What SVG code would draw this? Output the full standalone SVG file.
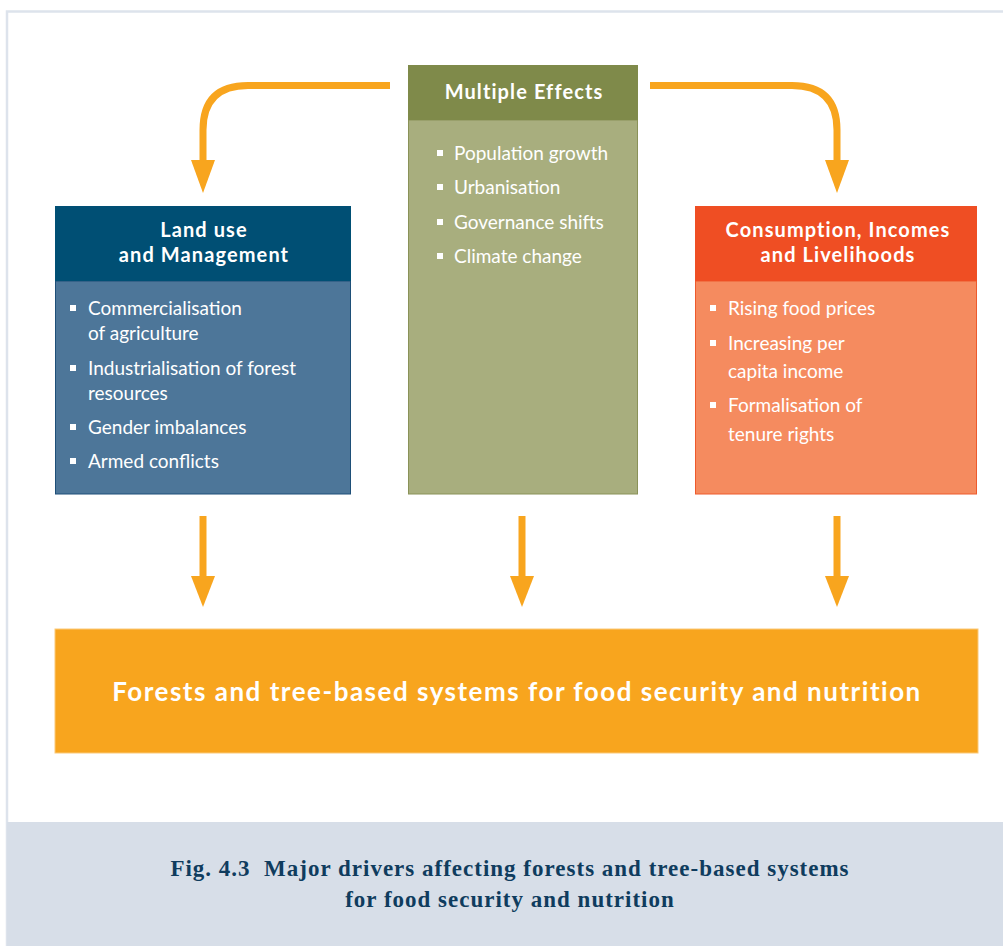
<svg xmlns="http://www.w3.org/2000/svg" width="1003" height="946" viewBox="0 0 1003 946">
<defs>
<style>
.hd{font-family:Lato,"Open Sans",sans-serif;font-weight:bold;font-size:20px;letter-spacing:1.1px;fill:#fff;text-anchor:middle}
.it{font-family:Lato,"Open Sans",sans-serif;font-size:19px;fill:#fff}
.bl{fill:#fff}
.conn{fill:none;stroke:#f8a51e;stroke-width:7}
.head{fill:#f8a51e}
.cap{font-family:"Liberation Serif",serif;font-weight:bold;font-size:23px;letter-spacing:1px;fill:#0f3c5e;text-anchor:middle}
</style>
</defs>
<rect x="0" y="0" width="1003" height="946" fill="#fff"/>
<path d="M7,946 L7,11.5 L1003,11.5" fill="none" stroke="#dde3ec" stroke-width="2.5"/>
<rect x="7" y="822" width="996" height="124" fill="#d7dee8"/>

<g id="connectors">
<path class="conn" d="M390,85.5 L248,85.5 Q203,85.5 203,130 L203,162"/>
<path class="head" d="M191,160 L215,160 L203,193 Z"/>
<path class="conn" d="M650,85.5 L792,85.5 Q837,85.5 837,130 L837,162"/>
<path class="head" d="M825,160 L849,160 L837,193 Z"/>
<path class="conn" d="M203,516 L203,578"/>
<path class="head" d="M191,576 L215,576 L203,607 Z"/>
<path class="conn" d="M522,516 L522,578"/>
<path class="head" d="M510,576 L534,576 L522,607 Z"/>
<path class="conn" d="M837,516 L837,578"/>
<path class="head" d="M825,576 L849,576 L837,607 Z"/>
</g>

<g id="land-use">
<rect x="55.5" y="281" width="295" height="213" fill="#4d7699" stroke="#1e4f78" stroke-width="1"/>
<rect x="55" y="206" width="296" height="75" fill="#004f74"/>
<text class="hd" x="204" y="237">Land use</text>
<text class="hd" x="204" y="262">and Management</text>
<rect class="bl" x="70" y="305" width="6" height="6"/>
<text class="it" x="88" y="315">Commercialisation</text>
<text class="it" x="88" y="340">of agriculture</text>
<rect class="bl" x="70" y="365" width="6" height="6"/>
<text class="it" x="88" y="375">Industrialisation of forest</text>
<text class="it" x="88" y="400">resources</text>
<rect class="bl" x="70" y="424" width="6" height="6"/>
<text class="it" x="88" y="434">Gender imbalances</text>
<rect class="bl" x="70" y="458" width="6" height="6"/>
<text class="it" x="88" y="468">Armed conflicts</text>
</g>

<g id="multiple-effects">
<rect x="408.5" y="120" width="229" height="374" fill="#a8ae7e" stroke="#8a9258" stroke-width="1"/>
<rect x="408" y="65" width="230" height="55" fill="#7f8a4a"/>
<text class="hd" x="524" y="99">Multiple Effects</text>
<rect class="bl" x="437" y="150" width="6" height="6"/>
<text class="it" x="454" y="160">Population growth</text>
<rect class="bl" x="437" y="184" width="6" height="6"/>
<text class="it" x="454" y="194">Urbanisation</text>
<rect class="bl" x="437" y="219" width="6" height="6"/>
<text class="it" x="454" y="229">Governance shifts</text>
<rect class="bl" x="437" y="253" width="6" height="6"/>
<text class="it" x="454" y="263">Climate change</text>
</g>

<g id="consumption">
<rect x="695.5" y="281" width="281" height="213" fill="#f58b5f" stroke="#ee5a2c" stroke-width="1"/>
<rect x="695" y="206" width="282" height="75" fill="#ef4e23"/>
<text class="hd" x="838" y="237">Consumption, Incomes</text>
<text class="hd" x="838" y="262">and Livelihoods</text>
<rect class="bl" x="710" y="305" width="6" height="6"/>
<text class="it" x="728" y="315">Rising food prices</text>
<rect class="bl" x="710" y="340" width="6" height="6"/>
<text class="it" x="728" y="350">Increasing per</text>
<text class="it" x="728" y="378">capita income</text>
<rect class="bl" x="710" y="402" width="6" height="6"/>
<text class="it" x="728" y="412">Formalisation of</text>
<text class="it" x="728" y="441">tenure rights</text>
</g>

<g id="forests">
<rect x="55" y="629" width="923" height="124" fill="#f8a51e" stroke="#fbc978" stroke-width="1"/>
<text x="517" y="701" font-family="Lato,'Open Sans',sans-serif" font-weight="bold" font-size="26" letter-spacing="1.5" fill="#fff" text-anchor="middle">Forests and tree-based systems for food security and nutrition</text>
</g>

<g id="caption">
<text class="cap" x="510" y="876" xml:space="preserve">Fig. 4.3  Major drivers affecting forests and tree-based systems</text>
<text class="cap" x="510" y="907">for food security and nutrition</text>
</g>
</svg>
